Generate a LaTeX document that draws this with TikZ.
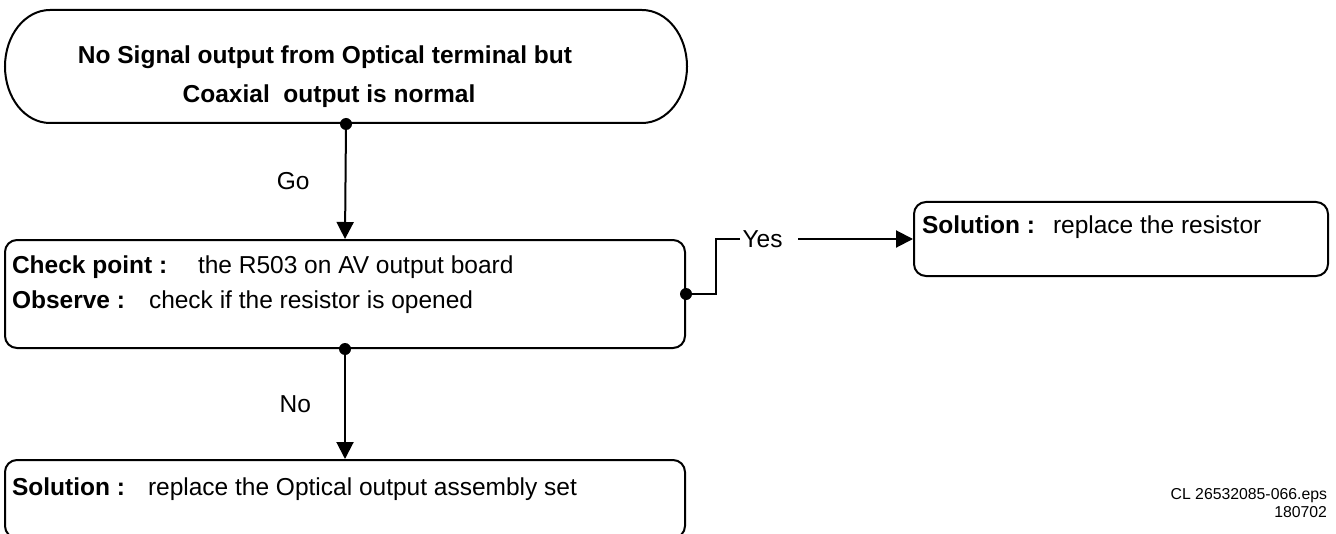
\documentclass[tikz,border=0pt]{standalone}
\usepackage{fontspec}
\setmainfont{Liberation Sans}
\usetikzlibrary{arrows.meta}

\begin{document}
\begin{tikzpicture}[
    x=0.5pt, y=-0.5pt,
    >={Triangle[length=8.5pt,width=8.5pt]},
    line width=1pt,
    every node/.style={font=\fontsize{12.25}{14}\selectfont, inner sep=0pt},
    box/.style={draw, rounded corners=6pt, minimum width=340pt},
    key/.style={anchor=base west, font=\bfseries\fontsize{12.25}{14}\selectfont},
    txt/.style={anchor=base west}
    ]
    
    \useasboundingbox (0,0) rectangle (1336,534);
    
    % start terminal
    \node[minimum width=340pt, minimum height=56.5pt] (start) at (346,66.5) {};
    \draw (50,10) -- (642,10)
        .. controls (667,10) and (687,35.3) .. (687,66.5)
        .. controls (687,97.7) and (667,123) .. (642,123) -- (50,123)
        .. controls (25,123) and (5,97.7) .. (5,66.5)
        .. controls (5,35.3) and (25,10) .. cycle;
    \node[anchor=base, font=\bfseries\fontsize{12.25}{14}\selectfont] (titlea) at (325,64)
        {No Signal output from Optical terminal but};
    \node[anchor=base, font=\bfseries\fontsize{12.25}{14}\selectfont] (titleb) at (329,103)
        {Coaxial\ \ output is normal};
    
    % boxes
    \node[box, minimum height=54pt] (check) at (345,294) {};
    \node[box, minimum width=207pt, minimum height=37pt] (fixres) at (1121,239) {};
    \node[box, minimum height=39pt] (fixopt) at (345,499) {};
    
    \node[key] (checkkey) at (11,273) {Check point :};
    \node[txt] (checktxt) at (197,273) {the R503 on AV output board};
    \node[key] (obskey) at (11,308) {Observe :};
    \node[txt] (obstxt) at (148,308) {check if the resistor is opened};
    \node[key] (reskey) at (921,234) {Solution :};
    \node[txt] (restxt) at (1052,234) {replace the resistor};
    \node[key] (optkey) at (11,495) {Solution :};
    \node[txt] (opttxt) at (147,495) {replace the Optical output assembly set};
    
    % connectors
    \draw[->] (start.south) -- (check.north) node[midway, left=17.5pt] {Go};
    \draw[->] (check.south) -- (fixopt.north) node[midway, left=16.5pt] {No};
    \node (yes) at (762.5,239) {Yes};
    \draw (check.east) -- ++(30,0) |- ([xshift=-1pt]yes.west);
    \draw[->] ([xshift=7.5pt]yes.east) -- (fixres.west);
    
    \foreach \p in {start.south, check.south, check.east} {
        \fill (\p) circle (3pt);
    }
    
    \node[anchor=base east, align=right, font=\fontsize{7.9}{9}\selectfont] (fileref) at (1328,517)
        {CL 26532085-066.eps\\180702};
    
\end{tikzpicture}
\end{document}
